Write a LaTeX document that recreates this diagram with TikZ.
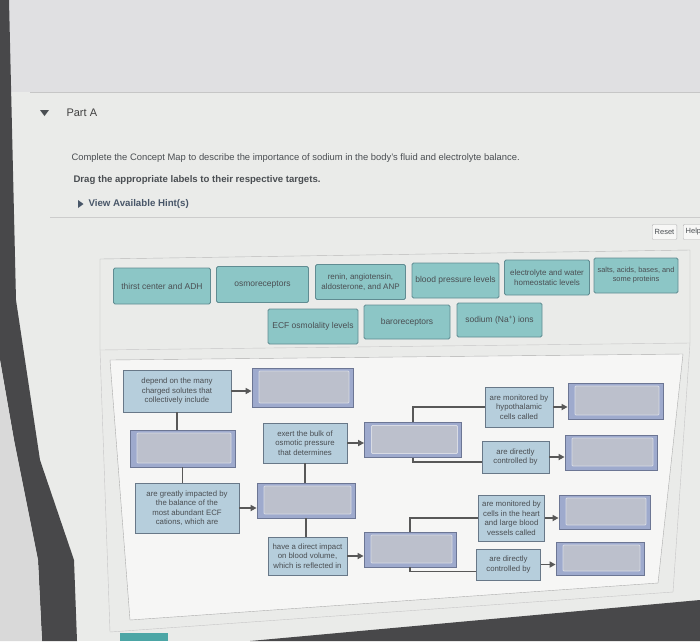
\documentclass[tikz,border=0pt]{standalone}
\usepackage{fontspec}
\setmainfont{Liberation Sans}
\usetikzlibrary{arrows.meta,positioning}
\definecolor{paper}{RGB}{234,235,233}
\definecolor{topband}{RGB}{224,224,226}
\definecolor{bezel}{RGB}{72,72,74}
\definecolor{ink}{RGB}{74,78,82}
\definecolor{hintblue}{RGB}{72,86,104}
\definecolor{tilefill}{RGB}{140,198,198}
\definecolor{tileedge}{RGB}{96,140,146}
\definecolor{lblfill}{RGB}{182,206,220}
\definecolor{lbledge}{RGB}{104,120,136}
\definecolor{tgtfill}{RGB}{158,170,205}
\definecolor{tgtedge}{RGB}{108,118,148}
\definecolor{tgtinner}{RGB}{188,192,204}
\definecolor{tgtinneredge}{RGB}{216,219,228}
\definecolor{wire}{RGB}{88,88,88}

\begin{document}
\begin{tikzpicture}[x=1pt,y=-1pt,
  every node/.style={font=\fontsize{7.8}{9.5}\selectfont, text=ink},
  tile/.style={draw=tileedge, fill=tilefill, rounded corners=1.5pt, line width=0.8pt, align=center, inner sep=1pt, font=\fontsize{8.5}{10}\selectfont},
  lbl/.style={draw=lbledge, fill=lblfill, line width=0.8pt, align=center, inner sep=1pt},
  target/.style={draw=tgtedge, fill=tgtfill, line width=0.8pt,
    path picture={\draw[draw=tgtinneredge, fill=tgtinner, rounded corners=1pt]
      ([shift={(7pt,-3pt)}]path picture bounding box.north west) rectangle
      ([shift={(-4pt,4pt)}]path picture bounding box.south east);}},
  link/.style={draw=wire, line width=1.6pt},
  arr/.style={link, -{Triangle[length=6pt,width=6pt]}},
  btn/.style={draw=gray!60, fill=white!60!paper, rounded corners=1pt, inner sep=2.5pt, minimum height=15pt, font=\fontsize{7.5}{8.5}\selectfont}]
\useasboundingbox (0,0) rectangle (700,641);
\clip (0,0) rectangle (700,641);
\fill[paper] (0,0) rectangle (700,641);
\fill[topband] (0,0) rectangle (700,92);
\draw[gray!45, line width=1pt] (30,92) -- (700,92);
\draw[gray!40] (50,217) -- (700,217);

\fill[ink] (40,110) -- (49,110) -- (44.5,116) -- cycle;
\node[anchor=west, font=\fontsize{11}{13}\selectfont, text=black!75] (parta) at (63,113) {Part A};
\node[anchor=west, font=\fontsize{9.4}{11}\selectfont] (task) at (68,158) {Complete the Concept Map to describe the importance of sodium in the body's fluid and electrolyte balance.};
\node[anchor=west, font=\bfseries\fontsize{9.6}{11}\selectfont] (drag) at (70,180) {Drag the appropriate labels to their respective targets.};
\fill[hintblue] (78,200) -- (83.5,204) -- (78,208) -- cycle;
\node[anchor=west, font=\bfseries\fontsize{9.7}{11}\selectfont, text=hintblue] (hint) at (85,204) {View Available Hint(s)};
\node[btn] (reset) at (664.5,232) {Reset};
\node[btn, right=6pt of reset] (help) {Help};

\draw[gray!55] (100,350) -- (100,259) -- (690,250) -- (690,343);
\draw[gray!45] (100,350) -- (690,343) -- (673,592) -- (110,632) -- cycle;
\filldraw[fill=white!55!paper, draw=gray!65] (110,360) -- (683,354) -- (658,583) -- (130,620) -- cycle;

\node[tile, minimum width=97pt, minimum height=36pt] (thirst) at (162,286) {thirst center and ADH};
\node[tile, minimum width=92pt, minimum height=36pt] (osmo) at (262.5,284.5) {osmoreceptors};
\node[tile, minimum width=90pt, minimum height=35pt, font=\fontsize{8}{9.5}\selectfont] (renin) at (360.5,282) {renin, angiotensin,\\aldosterone, and ANP};
\node[tile, minimum width=87pt, minimum height=35pt] (bplevels) at (455.5,280.5) {blood pressure levels};
\node[tile, minimum width=85pt, minimum height=35pt, font=\fontsize{8}{9.5}\selectfont] (homeo) at (547,277.5) {electrolyte and water\\homeostatic levels};
\node[tile, minimum width=84pt, minimum height=35pt, font=\fontsize{7.4}{9}\selectfont] (salts) at (636,275.5) {salts, acids, bases, and\\some proteins};
\node[tile, minimum width=90pt, minimum height=35pt] (ecf) at (313,326.5) {ECF osmolality levels};
\node[tile, minimum width=86pt, minimum height=34pt] (baro) at (407,322) {baroreceptors};
\node[tile, minimum width=85pt, minimum height=34pt] (sodium) at (499.5,320) {sodium (Na\textsuperscript{+}) ions};

\node[lbl, minimum width=108pt, minimum height=42pt] (depend) at (177,391) {depend on the many\\charged solutes that\\collectively include};
\node[target, minimum width=101pt, minimum height=39pt] (tA) at (302.5,387.5) {};
\node[target, minimum width=105pt, minimum height=37pt] (tB) at (182.5,448.5) {};
\node[lbl, minimum width=84pt, minimum height=40pt] (exert) at (305,443) {exert the bulk of\\osmotic pressure\\that determines};
\node[target, minimum width=97pt, minimum height=35pt] (tC) at (413,440) {};
\node[lbl, minimum width=68pt, minimum height=40pt] (hypo) at (519,407) {are monitored by\\hypothalamic\\cells called};
\node[target, minimum width=95pt, minimum height=36pt] (tD) at (615.5,401) {};
\node[lbl, minimum width=67pt, minimum height=32pt] (ctrlA) at (515.5,457) {are directly\\controlled by};
\node[target, minimum width=92pt, minimum height=35pt] (tE) at (611,452.5) {};
\node[lbl, minimum width=104pt, minimum height=50pt] (greatly) at (187,508) {are greatly impacted by\\the balance of the\\most abundant ECF\\cations, which are};
\node[target, minimum width=98pt, minimum height=35pt] (tF) at (306,500.5) {};
\node[lbl, minimum width=79pt, minimum height=38pt] (have) at (307.5,556) {have a direct impact\\on blood volume,\\which is reflected in};
\node[target, minimum width=92pt, minimum height=35pt] (tG) at (410,549.5) {};
\node[lbl, minimum width=66pt, minimum height=46pt] (heart) at (511.5,518) {are monitored by\\cells in the heart\\and large blood\\vessels called};
\node[target, minimum width=91pt, minimum height=34pt] (tH) at (604.5,512) {};
\node[lbl, minimum width=64pt, minimum height=31pt] (ctrlB) at (508.5,564.5) {are directly\\controlled by};
\node[target, minimum width=88pt, minimum height=33pt] (tI) at (600,558.5) {};

\draw[arr] (depend.east) -- (depend.east -| tA.west);
\draw[link] (depend.south) -- (depend.south |- tB.north);
\draw[link] (tB.south) -- (tB.south |- greatly.north);
\draw[arr] (greatly.east) -- (greatly.east -| tF.west);
\draw[arr] (exert.east) -- (exert.east -| tC.west);
\draw[link] (exert.south) -- (exert.south |- tF.north);
\draw[link] (tF.south) -- (tF.south |- have.north);
\draw[arr] (have.east) -- (have.east -| tG.west);
\draw[link] (tC.north) |- (hypo.west);
\draw[link] (tC.south) |- ([yshift=-5pt]ctrlA.west);
\draw[arr] (hypo.east) -- (hypo.east -| tD.west);
\draw[arr] (ctrlA.east) -- (ctrlA.east -| tE.west);
\draw[link] (tG.north) |- (heart.west);
\draw[link] (tG.south) |- ([yshift=-7pt]ctrlB.west);
\draw[arr] (heart.east) -- (heart.east -| tH.west);
\draw[arr] (ctrlB.east) -- (ctrlB.east -| tI.west);

\fill[bezel] (0,0) -- (9,0) -- (16,300) -- (40,460) -- (74,560) -- (77,641) -- (42,641) -- (38,560) -- (14,440) -- (0,360) -- cycle;
\fill[gray!30] (0,360) -- (14,440) -- (38,560) -- (42,641) -- (0,641) -- cycle;
\fill[bezel] (250,641) -- (700,600) -- (700,641) -- cycle;
\fill[teal!70] (120,633) rectangle (168,641);
\end{tikzpicture}
\end{document}
